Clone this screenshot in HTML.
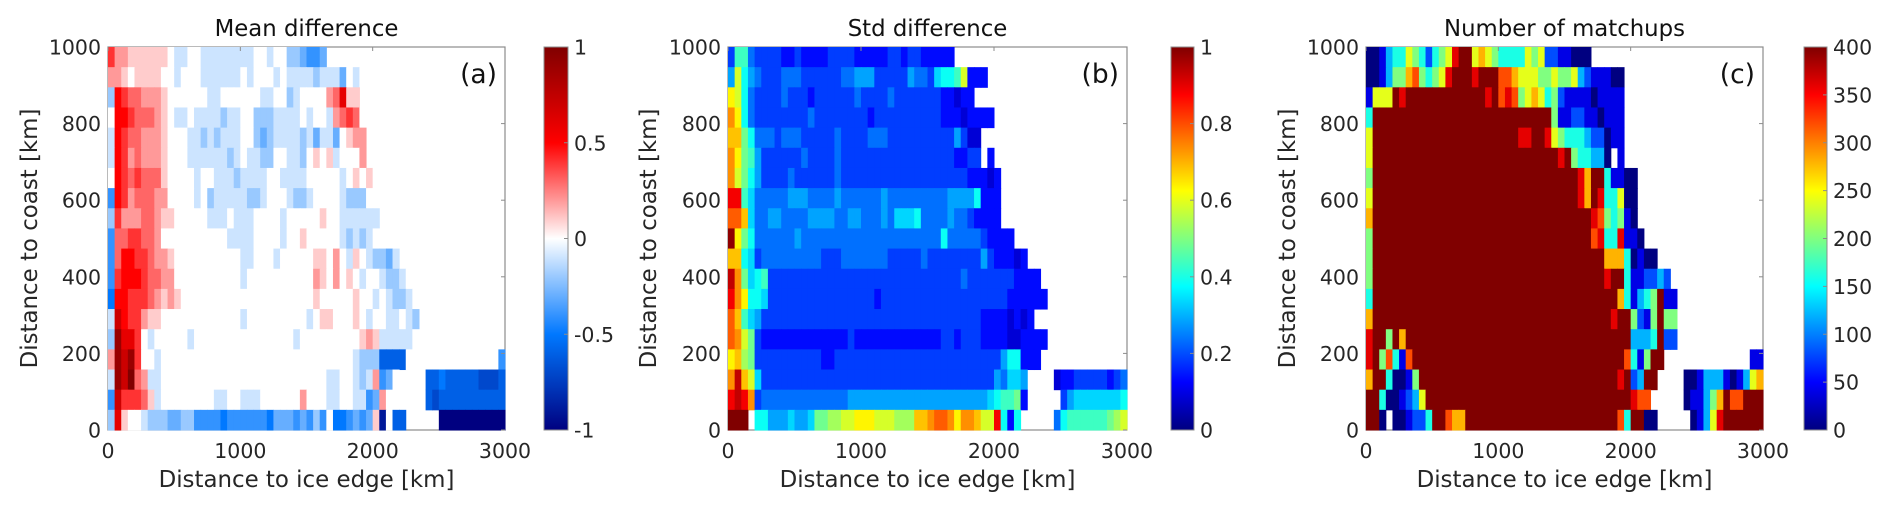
<!DOCTYPE html>
<html><head><meta charset="utf-8">
<style>
html,body{margin:0;padding:0;background:#fff;}
svg{display:block;font-family:"DejaVu Sans","Liberation Sans",sans-serif;}
</style></head>
<body>
<svg id="fig" width="1892" height="510" viewBox="0 0 1892 510" xmlns="http://www.w3.org/2000/svg"></svg>
<script>
// ---------- data ----------
const xTicks = [0, 1000, 2000, 3000];
const yTicks = [0, 200, 400, 600, 800, 1000];
const cbarTicksA = [-1, -0.5, 0, 0.5, 1];
const cbarTicksB = [0, 0.2, 0.4, 0.6, 0.8, 1];
const cbarTicksC = [0, 50, 100, 150, 200, 250, 300, 350, 400];
const codeChars = "0123456789ABCDEFGHIJK";
// rows listed top (far from coast) to bottom (near coast); '.' = no data
const meanRows = [
"ECCBBBBBBA99AA99999999AA9AA887667",
"CCBABBBBAA9AAA999999A9AAA9A999989997A9A",
"8FEDDCCCBAAAAAA99AAAAAA99AA89AAAACDGBB",
"AFFEDDDCBA99A9999899AA8889999A9AA9CDEDA",
"9FEDDCCCBAAA99898999AA8789999897997ABCC",
"9FECDCCCBAAA99999989A9988AA998ABAB9AAAC",
"AFEDEDDDBAAAA9AA99989999AA9999AAAAA9ABABA",
"6FECDDDCCAAAA9A899999889AAA9889AAAA9888AA",
"8ECCCDDCBBAAAAA999A999AAAA9AAAAABAA999999",
"6DDEEDDCAAAAAAAAAA9999AAAA9AABAAAAA98989AA",
"6DFFEEDCCBAAAAAAAAAA99AAA9AAAAABBACA9BA98879",
"6EFFFEDDCCAAAAAAAAAA9AAAAAAAAAACBACABA9AA9889A",
"5FFEEEDCBCBAAAAAAAAAAAAAAAAAAAABAAAAABAA9A9889A",
"9HFEECBBAAAAAAAAAAAA9AAAAAAAAA9ABBAAABA9AA99A98",
"8JGGEA9AAAAA9AAAAAAAAAAAAAAA9AAAAAAAAABCB99999A",
"CJHJEAA9AAAAAAAAAAAAAAAAAAAAAAAAAAAAA98884444A.............66",
"9JHKDC99AAAAAAAAAAAAAAAAAAAAAAAAA99AA989C67A....445444443334",
"6HEEEDB9AAAAAAAA99AA999AAAAAACAAA99AA9967CA.....434444444444",
"8GBAA9888778866665666666577767686A556767B1A44.....00000000000"
];
const stdRows = [
"3884333322322223333222223323322222",
"5B754333444333333445553333354436778B222",
"CB74333343332333333433334333333322122",
"EC74333333334333333332333333333322212222",
"DD974443444333334333344433333333335311",
"EC985333333433334333333333333333332233.2",
"EB975333343333334333333333333333333322212",
"HH864444455544445444444544444444455557222",
"FFD64455444455554455444546667444454432222",
"JC97444444544444444444444444444474444432222",
"DD7634444444443334444444333334333333335322212",
"IE967833333333333333333333333333333433333332222",
"HEC776333333333333333323333333333333333333222222",
"FD86533333333333333333333333333333333322221212",
"FEB932222222222222322222222222223323332222112222",
"CDA93333333333223333333333333333333333333577222.............22",
"EIDB63333333333333333333333333333333333354665....122333332344",
"HIHE34444444444444555555555555555555555678892.....356666666777",
"KKK.77555655699AABBCCCBBBAAADDEFFECEEDBBH727.....478888889AB"
];
const countRows = [
"00134465424569AA676544446562211000",
"0013557854569AAA9AAA8876665565563211100",
"1666A9AAAAAAAAAAAA9A8985676452111101111",
"4AAAAAAAAAAAAAAAAAAAAAAAAAAA51122110111",
"6AAAAAAAAAAAAAAAAAAAAAA99AA965444322011",
"6AAAAAAAAAAAAAAAAAAAAAAAAAAAA9A544330.1",
"5AAAAAAAAAAAAAAAAAAAAAAAAAAAAAAA97AA41100",
"6AAAAAAAAAAAAAAAAAAAAAAAAAAAAAAA97A944600",
"7AAAAAAAAAAAAAAAAAAAAAAAAAAAAAAAAA9854510",
"5AAAAAAAAAAAAAAAAAAAAAAAAAAAAAAAAA89449110",
"5AAAAAAAAAAAAAAAAAAAAAAAAAAAAAAAAAAA77740100",
"5AAAAAAAAAAAAAAAAAAAAAAAAAAAAAAAAAAA9AA4112232",
"4AAAAAAAAAAAAAAAAAAAAAAAAAAAAAAAAAAAAA741345A11",
"7AAAAAAAAAAAAAAAAAAAAAAAAAAAAAAAAAAAA9AA5215A55",
"9AA5A7AAAAAAAAAAAAAAAAAAAAAAAAAAAAAAAAAA3334A22",
"9A58418AAAAAAAAAAAAAAAAAAAAAAAAAAAAAAAA8415AA.............11",
"7AA40015AAAAAAAAAAAAAAAAAAAAAAAAAAAAAA9A23AA....001333101367",
"AA4001236AAAAAAAAAAAAAAAAAAAAAAAAAAAAAAA988.....011357A88AAA",
"AA0.001224AA877AAAAAAAAAAAAAAAAAAAAAAA84AA00.....01369AAAAAA"
];

// ---------- helpers ----------
const NS = "http://www.w3.org/2000/svg";
const svg = document.getElementById("fig");
function mk(tag, attrs, parent) {
  const e = document.createElementNS(NS, tag);
  for (const k in attrs) e.setAttribute(k, attrs[k]);
  (parent || svg).appendChild(e);
  return e;
}
function clamp(v){return Math.max(0,Math.min(1,v));}
function jet(t){
  t = clamp(t);
  const r = clamp(1.5-Math.abs(4*t-3)), g = clamp(1.5-Math.abs(4*t-2)), b = clamp(1.5-Math.abs(4*t-1));
  return `rgb(${Math.round(r*255)},${Math.round(g*255)},${Math.round(b*255)})`;
}
function bwr(v){
  const stops = [[-1,[0,0,128]],[-0.5,[0,120,255]],[0,[255,255,255]],[0.5,[255,0,0]],[1,[128,0,0]]];
  v = Math.max(-1,Math.min(1,v));
  for (let i=0;i<stops.length-1;i++){
    const [a,ca]=stops[i],[b,cb]=stops[i+1];
    if (v<=b){const f=(v-a)/(b-a);
      return `rgb(${Math.round(ca[0]+(cb[0]-ca[0])*f)},${Math.round(ca[1]+(cb[1]-ca[1])*f)},${Math.round(ca[2]+(cb[2]-ca[2])*f)})`;}
  }
  return "rgb(128,0,0)";
}
const TXT = "#262626";

const panels = [
  {key:"mean", x0:108, x1:505, cb:[544,568], rows:meanRows, title:"Mean difference", tag:"(a)",
   decode:c=>codeChars.indexOf(c)/10-1, cmap:bwr, vmin:-1, vmax:1, cticks:cbarTicksA, ylabX:37, tickRight:101},
  {key:"std", x0:728, x1:1127, cb:[1171,1194], rows:stdRows, title:"Std difference", tag:"(b)",
   decode:c=>(codeChars.indexOf(c)+0.7)/20, cmap:v=>jet(v), vmin:0, vmax:1, cticks:cbarTicksB, ylabX:656, tickRight:721},
  {key:"count", x0:1366, x1:1763, cb:[1804,1827], rows:countRows, title:"Number of matchups", tag:"(c)",
   decode:c=>codeChars.indexOf(c)*40, cmap:v=>jet(v/400), vmin:0, vmax:400, cticks:cbarTicksC, ylabX:1295, tickRight:1359}
];
const Y0 = 47, Y1 = 430, NCOL = 60, NROW = 19;

panels.forEach(p=>{
  const g = mk("g",{});
  
  
  const xs = km => p.x0 + (p.x1-p.x0)*km/3000;
  const ys = km => Y1 - (Y1-Y0)*km/1000;
  const box = mk("rect",{x:p.x0,y:Y0,width:p.x1-p.x0,height:Y1-Y0,fill:"#fff",stroke:"#8c8c8c","stroke-width":1.2},g);
  
  
  const cells = mk("g",{},g);
  
  
  const rowKm = 1000/NROW;
  p.rows.forEach((row,t)=>{
    const r = row.padEnd(NCOL,".").slice(0,NCOL);
    const kmTop = 1000 - t*rowKm, kmBot = kmTop - rowKm;
    for (let i=0;i<NCOL;i++){
      const ch = r[i];
      if (ch===".") continue;
      const v = p.decode(ch);
      const xa = xs(i*50), xb = xs((i+1)*50);
      const cell = mk("rect",{x:xa.toFixed(2),y:ys(kmTop).toFixed(2),width:(xb-xa+0.5).toFixed(2),height:(ys(kmBot)-ys(kmTop)+0.5).toFixed(2),fill:p.cmap(v)},cells);
      
      
    }
  });
  xTicks.forEach(k=>{
    const tk = mk("line",{x1:xs(k),x2:xs(k),y1:Y0,y2:Y0+4,stroke:"#8c8c8c","stroke-width":1},g);
    
    
    const lb = mk("text",{x:xs(k),y:458,"text-anchor":"middle","font-size":20.5,fill:TXT},g);
    lb.textContent = k;
    
    
  });
  yTicks.forEach(k=>{
    const tk = mk("line",{x1:p.x1-4,x2:p.x1,y1:ys(k),y2:ys(k),stroke:"#8c8c8c","stroke-width":1},g);
    
    
    const lb = mk("text",{x:p.tickRight,y:ys(k)+7.5,"text-anchor":"end","font-size":20.5,fill:TXT},g);
    lb.textContent = k;
    
    
  });
  const ti = mk("text",{x:(p.x0+p.x1)/2,y:36,"text-anchor":"middle","font-size":22.8,fill:"#111"},g);
  ti.textContent = p.title;
  
  
  const tg = mk("text",{x:p.x1-8,y:83,"text-anchor":"end","font-size":26.5,fill:"#111"},g);
  tg.textContent = p.tag;
  
  
  const xl = mk("text",{x:(p.x0+p.x1)/2,y:487,"text-anchor":"middle","font-size":22.9,fill:TXT},g);
  xl.textContent = "Distance to ice edge [km]";
  
  
  const yl = mk("text",{x:0,y:0,"text-anchor":"middle","font-size":22.9,fill:TXT,transform:`translate(${p.ylabX},${(Y0+Y1)/2}) rotate(-90)`},g);
  yl.textContent = "Distance to coast [km]";
  
  
  const gradId = "grad-"+p.key;
  const defs = mk("defs",{},g);
  const lg = mk("linearGradient",{id:gradId,x1:0,y1:1,x2:0,y2:0},defs);
  for (let s=0;s<=64;s++){
    const f = s/64;
    mk("stop",{offset:f,"stop-color":p.cmap(p.vmin+(p.vmax-p.vmin)*f)},lg);
  }
  const cbw = p.cb[1]-p.cb[0];
  const cbr = mk("rect",{x:p.cb[0],y:Y0,width:cbw,height:Y1-Y0,fill:`url(#${gradId})`,stroke:"#8c8c8c","stroke-width":1},g);
  
  
  p.cticks.forEach(v=>{
    const yy = Y1 - (Y1-Y0)*(v-p.vmin)/(p.vmax-p.vmin);
    const tk = mk("line",{x1:p.cb[1]-4,x2:p.cb[1],y1:yy,y2:yy,stroke:"#8c8c8c","stroke-width":1},g);
    
    
    const lb = mk("text",{x:p.cb[1]+6,y:yy+7.5,"font-size":20.5,fill:TXT},g);
    lb.textContent = v;
    
    
  });
});
</script>
</body></html>
